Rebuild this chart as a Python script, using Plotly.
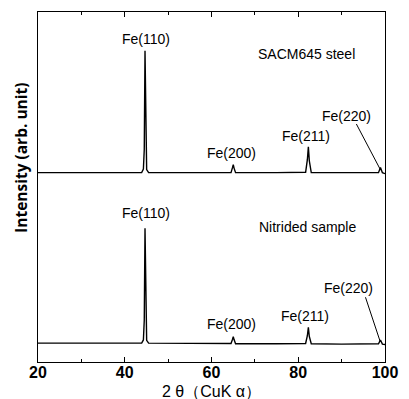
import plotly.graph_objects as go

# 2-theta positions (deg) of the traced profile vertices
two_theta = [20, 30, 40, 43.9, 44.3, 44.5, 44.67, 44.85, 45.05, 45.5, 55,
             64.5, 64.85, 65.02, 65.2, 65.55, 75,
             81.7, 82.1, 82.33, 82.55, 83.0, 90,
             98.5, 98.95, 99.4, 100]

# Nitrided sample intensity (arb. unit)
nitrided = [5.4, 5.4, 5.35, 5.4, 6.3, 12, 38.2, 12, 6.2, 5.4, 5.3,
            5.3, 6.5, 7.2, 6.4, 5.2, 5.2,
            5.3, 7.5, 9.9, 7.3, 5.2, 5.1,
            5.2, 6.3, 5.1, 5.0]

# SACM645 steel intensity (arb. unit), before vertical offset
steel = [5.3, 5.3, 5.3, 5.3, 6.3, 12, 40.1, 12, 6.2, 5.3, 5.3,
         5.3, 6.8, 7.6, 6.6, 5.3, 5.3,
         5.4, 9.0, 12.7, 8.7, 5.3, 5.3,
         5.3, 6.8, 5.3, 5.0]
steel_offset = 48.8

x_ticks = [20, 40, 60, 80, 100]
x_ticklabels = ["20", "40", "60", "80", "100"]

steel_shifted = [v + steel_offset for v in steel]

fig = go.Figure()
fig.add_trace(go.Scatter(x=two_theta, y=nitrided, mode="lines",
                         line=dict(color="black", width=1.4), showlegend=False))
fig.add_trace(go.Scatter(x=two_theta, y=steel_shifted, mode="lines",
                         line=dict(color="black", width=1.4), showlegend=False))

lab_font = dict(family="Liberation Sans, Arial", size=14, color="black")

labels = [
    ("Fe(110)", 44.9, 92.3),
    ("SACM645 steel", 81.8, 88.0),
    ("Fe(200)", 64.5, 59.8),
    ("Fe(211)", 81.9, 64.7),
    ("Fe(110)", 44.9, 42.5),
    ("Nitrided sample", 82.1, 38.5),
    ("Fe(200)", 64.5, 10.8),
    ("Fe(211)", 81.5, 13.1),
]
for t, x, y in labels:
    fig.add_annotation(x=x, y=y, text=t, showarrow=False, font=lab_font,
                       xanchor="center", yanchor="middle")

# Fe(220) labels with leader lines
fig.add_annotation(x=91.2, y=70.4, text="Fe(220)", showarrow=False, font=lab_font)
fig.add_shape(type="line", x0=93.4, y0=68.0, x1=99.0, y1=54.8,
              line=dict(color="black", width=1))
fig.add_annotation(x=91.6, y=21.1, text="Fe(220)", showarrow=False, font=lab_font)
fig.add_shape(type="line", x0=95.5, y0=18.5, x1=98.9, y1=5.8,
              line=dict(color="black", width=1))

# Y-axis title (rotated annotation)
fig.add_annotation(xref="paper", yref="paper", x=-0.051, y=0.584,
                   text="Intensity (arb. unit)", textangle=-90, showarrow=False,
                   font=dict(family="Open Sans", size=15.5, color="black", weight="bold"),
                   xanchor="center", yanchor="middle")

# X-axis title (annotation for exact placement)
fig.add_annotation(xref="paper", yref="paper", x=0.5, y=-0.083,
                   text="2 θ（CuK α）", showarrow=False, borderpad=0,
                   font=dict(family="Liberation Sans, Arial", size=16, color="black"),
                   xanchor="center", yanchor="middle")

fig.update_xaxes(range=[20, 100], tickvals=x_ticks, ticktext=x_ticklabels,
                 ticks="inside", ticklen=5, tickwidth=1, tickcolor="black",
                 minor=dict(tickvals=[30, 50, 70, 90], ticks="inside", ticklen=3,
                            tickcolor="black", tickwidth=1),
                 showline=True, linecolor="black", linewidth=1.3, mirror="allticks",
                 showgrid=False, zeroline=False, ticklabelstandoff=-4,
                 tickfont=dict(family="Liberation Sans, Arial", size=16, color="black",
                               weight="bold"))
fig.update_yaxes(range=[0, 100], showticklabels=False, ticks="",
                 showline=True, linecolor="black", linewidth=1.3, mirror=True,
                 showgrid=False, zeroline=False)

fig.update_layout(width=409, height=399,
                  margin=dict(l=38, r=17, t=11, b=37),
                  plot_bgcolor="white", paper_bgcolor="white")

fig.write_html("out.html", config={"displayModeBar": False},
               post_script="document.body.style.margin='0';"
                           "document.body.style.overflow='hidden';")
